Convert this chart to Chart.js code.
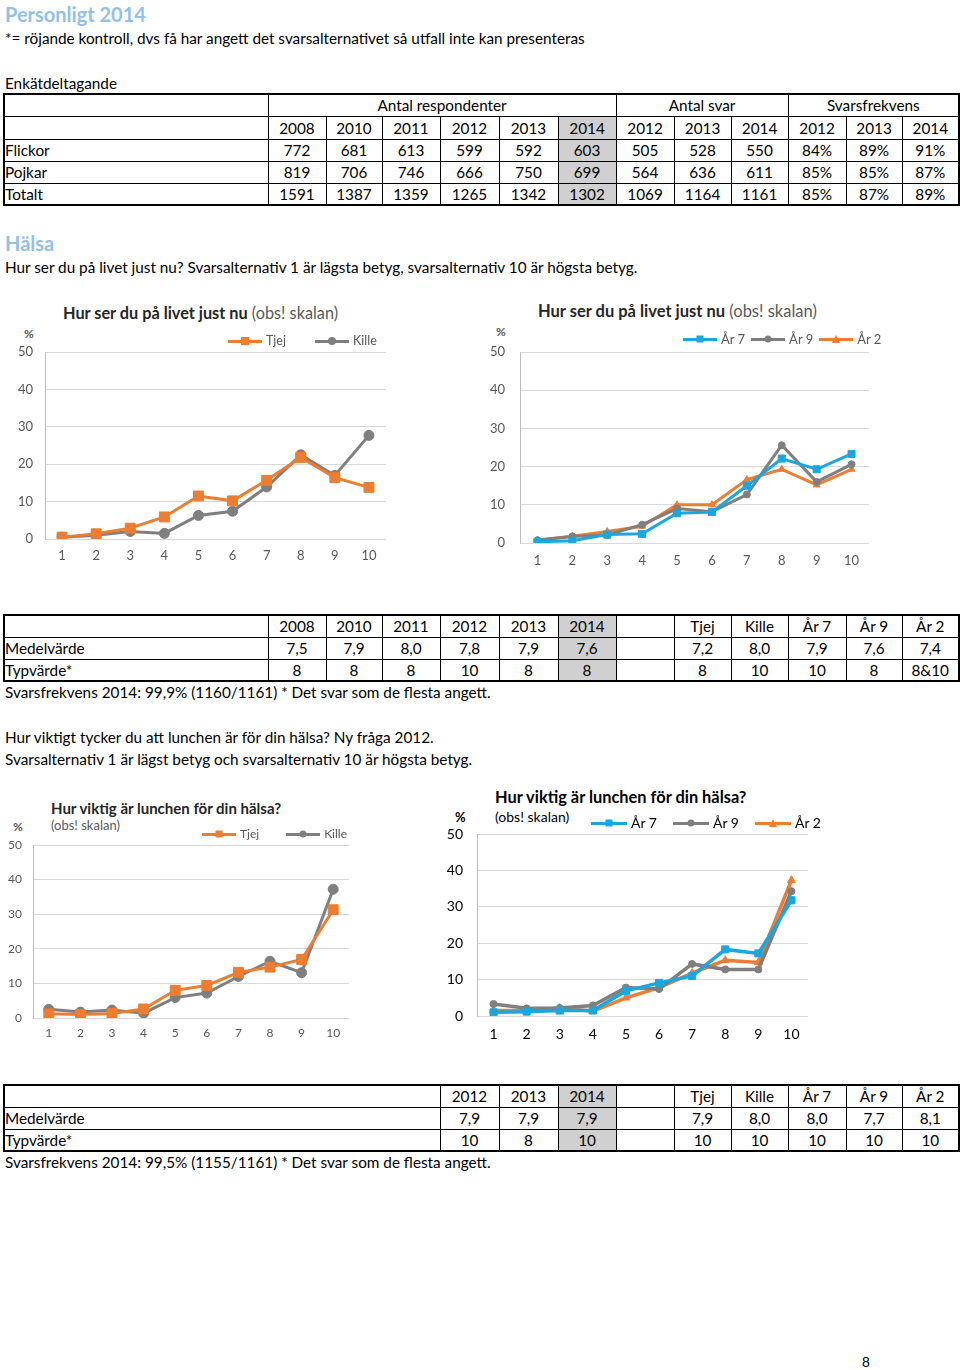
<!DOCTYPE html>
<html lang="sv">
<head>
<meta charset="utf-8">
<script src="https://cdn.jsdelivr.net/npm/chart.js@4.4.1/dist/chart.umd.min.js"></script>
<style>
  body { margin:0; width:960px; height:1370px; position:relative; background:#fff;
         font-family: Lato, 'Noto Sans', sans-serif; font-size:15.3px; color:#000; }
  .t { position:absolute; white-space:nowrap; line-height:20px; }
  .h { color:#92C1E6; font-weight:bold; font-size:20px; line-height:24px; }
  table { position:absolute; border-collapse:collapse; border:2px solid #000; table-layout:fixed; }
  td { border:1px solid #000; padding:0; text-align:center; font-size:15.3px; line-height:18px; overflow:hidden; white-space:nowrap; }
  td.l { text-align:left; padding-left:0; }
  td.g { background:#D0D0D0; }
  canvas { position:absolute; }
  .ct { position:absolute; white-space:nowrap; color:#262626; line-height:18px; }
  .pct { position:absolute; font-size:12px; font-weight:bold; color:#595959; line-height:14px; }
  .lg { position:absolute; display:flex; align-items:center; white-space:nowrap; line-height:16px; }
  .lgi { display:flex; align-items:center; }
  .ln { position:relative; height:3px; margin-right:4px; }
  .mk { position:absolute; left:50%; top:50%; transform:translate(-50%,-50%); }
</style>
</head>
<body>

<div class="t h" style="left:5px;top:2px;">Personligt 2014</div>
<div class="t" style="left:5px;top:28px;">*= röjande kontroll, dvs få har angett det svarsalternativet så utfall inte kan presenteras</div>
<div class="t" style="left:5px;top:73px;">Enkätdeltagande</div>
<div class="t h" style="left:5px;top:231px;">Hälsa</div>
<div class="t" style="left:5px;top:257px;">Hur ser du på livet just nu? Svarsalternativ 1 är lägsta betyg, svarsalternativ 10 är högsta betyg.</div>
<div class="t" style="left:5px;top:682px;">Svarsfrekvens 2014: 99,9% (1160/1161) * Det svar som de flesta angett.</div>
<div class="t" style="left:5px;top:727px;">Hur viktigt tycker du att lunchen är för din hälsa? Ny fråga 2012.</div>
<div class="t" style="left:5px;top:749px;">Svarsalternativ 1 är lägst betyg och svarsalternativ 10 är högsta betyg.</div>
<div class="t" style="left:5px;top:1152px;">Svarsfrekvens 2014: 99,5% (1155/1161) * Det svar som de flesta angett.</div>
<div class="t" style="left:862px;top:1352px;font-family:'Liberation Sans',sans-serif;font-size:14px;">8</div>

<!-- diagramrubriker -->
<div class="ct" style="left:63px;top:304px;font-size:16.3px;"><b>Hur ser du på livet just nu</b> <span style="color:#595959">(obs! skalan)</span></div>
<div class="pct" style="left:24px;top:327px;">%</div>
<div class="ct" style="left:538px;top:302px;font-size:16.5px;"><b>Hur ser du på livet just nu</b> <span style="color:#595959">(obs! skalan)</span></div>
<div class="pct" style="left:496px;top:325px;">%</div>
<div class="ct" style="left:51px;top:799px;font-size:15px;"><b>Hur viktig är lunchen för din hälsa?</b></div>
<div class="ct" style="left:51px;top:816px;font-size:13px;color:#595959;">(obs! skalan)</div>
<div class="pct" style="left:13px;top:820px;">%</div>
<div class="ct" style="left:495px;top:788px;font-size:16.4px;color:#000;"><b>Hur viktig är lunchen för din hälsa?</b></div>
<div class="ct" style="left:495px;top:808px;font-size:14px;color:#000;">(obs! skalan)</div>
<div class="pct" style="left:455px;top:810px;font-size:13px;color:#000;">%</div>

<canvas id="c1" width="400" height="228" style="left:0px;top:342px;"></canvas>
<canvas id="c2" width="400" height="231" style="left:480px;top:342px;"></canvas>
<canvas id="c3" width="360" height="210" style="left:0px;top:835px;"></canvas>
<canvas id="c4" width="380" height="222" style="left:440px;top:824px;"></canvas>

<script>
// Enkätdeltagande
const respAr = ['2008', '2010', '2011', '2012', '2013', '2014'];
const svarAr = ['2012', '2013', '2014'];
const flickorResp = [772, 681, 613, 599, 592, 603];
const pojkarResp = [819, 706, 746, 666, 750, 699];
const totaltResp = [1591, 1387, 1359, 1265, 1342, 1302];
const flickorSvar = [505, 528, 550];
const pojkarSvar = [564, 636, 611];
const totaltSvar = [1069, 1164, 1161];
const flickorFrekv = ['84%', '89%', '91%'];
const pojkarFrekv = ['85%', '85%', '87%'];
const totaltFrekv = ['85%', '87%', '89%'];

// Medel- och typvärden
const grupper = ['Tjej', 'Kille', 'År 7', 'År 9', 'År 2'];
const livetMedelAr = ['7,5', '7,9', '8,0', '7,8', '7,9', '7,6'];
const livetTypAr = ['8', '8', '8', '10', '8', '8'];
const livetMedelGrupp = ['7,2', '8,0', '7,9', '7,6', '7,4'];
const livetTypGrupp = ['8', '10', '10', '8', '8&10'];
const lunchMedelAr = ['7,9', '7,9', '7,9'];
const lunchTypAr = ['10', '8', '10'];
const lunchMedelGrupp = ['7,9', '8,0', '8,0', '7,7', '8,1'];
const lunchTypGrupp = ['10', '10', '10', '10', '10'];

// Diagramdata (%)
const svarsalternativ = ['1', '2', '3', '4', '5', '6', '7', '8', '9', '10'];
const livetTjej = [0.5, 1.4, 2.9, 5.9, 11.5, 10.2, 15.7, 21.8, 16.4, 13.8];
const livetKille = [0.5, 1.0, 2.0, 1.5, 6.3, 7.4, 13.9, 22.5, 17.0, 27.7];
const livetAr7 = [0.3, 0.6, 2.2, 2.4, 7.8, 8.1, 15.0, 22.1, 19.3, 23.3];
const livetAr9 = [0.7, 1.7, 2.1, 4.8, 9.0, 8.2, 12.7, 25.6, 16.0, 20.6];
const livetAr2 = [0.8, 1.8, 3.0, 4.4, 10.0, 10.0, 16.6, 19.3, 15.2, 19.3];
const lunchTjej = [1.2, 1.0, 1.3, 2.6, 8.0, 9.4, 13.2, 14.7, 16.9, 31.3];
const lunchKille = [2.5, 1.7, 2.3, 1.4, 5.9, 7.2, 12.0, 16.4, 13.1, 37.2];
const lunchAr7 = [1.0, 1.2, 1.5, 1.5, 6.9, 9.1, 11.0, 18.3, 17.2, 31.8];
const lunchAr9 = [3.3, 2.1, 2.2, 2.9, 7.8, 7.4, 14.3, 12.8, 12.8, 34.3];
const lunchAr2 = [1.5, 1.5, 2.2, 1.3, 5.0, 7.8, 11.8, 15.3, 14.7, 37.3];

const ORANGE = '#ED7D31', GRAY = '#7F7F7F', BLUE = '#1AA7E0';

// Tabeller
function buildTable(left, top, bounds, heights, rows) {
  const t = document.createElement('table');
  t.style.left = left + 'px';
  t.style.top = top + 'px';
  t.style.width = (bounds[bounds.length - 1] - bounds[0]) + 'px';
  const cg = document.createElement('colgroup');
  for (let i = 0; i < bounds.length - 1; i++) {
    const c = document.createElement('col');
    c.style.width = (bounds[i + 1] - bounds[i]) + 'px';
    cg.appendChild(c);
  }
  t.appendChild(cg);
  rows.forEach((r, ri) => {
    const tr = t.insertRow();
    tr.style.height = heights[ri] + 'px';
    r.forEach(c => {
      const td = tr.insertCell();
      if (typeof c === 'object') {
        td.textContent = c.t;
        if (c.span) td.colSpan = c.span;
        if (c.cls) td.className = c.cls;
      } else td.textContent = c;
    });
  });
  document.body.appendChild(t);
}
const gr = (arr, idx) => arr.map((v, i) => i === idx ? { t: v, cls: 'g' } : String(v));

const b1 = [3, 267, 325, 381, 439, 498, 557, 615, 673, 730, 787, 845, 901, 958];
buildTable(3, 93, b1, [22, 23, 22, 22, 22], [
  ['', { t: 'Antal respondenter', span: 6 }, { t: 'Antal svar', span: 3 }, { t: 'Svarsfrekvens', span: 3 }],
  ['', ...gr(respAr, 5), ...svarAr, ...svarAr],
  [{ t: 'Flickor', cls: 'l' }, ...gr(flickorResp, 5), ...flickorSvar.map(String), ...flickorFrekv],
  [{ t: 'Pojkar', cls: 'l' }, ...gr(pojkarResp, 5), ...pojkarSvar.map(String), ...pojkarFrekv],
  [{ t: 'Totalt', cls: 'l' }, ...gr(totaltResp, 5), ...totaltSvar.map(String), ...totaltFrekv]
]);
buildTable(3, 614, b1, [22, 22, 22], [
  ['', ...gr(respAr, 5), '', ...grupper],
  [{ t: 'Medelvärde', cls: 'l' }, ...gr(livetMedelAr, 5), '', ...livetMedelGrupp],
  [{ t: 'Typvärde*', cls: 'l' }, ...gr(livetTypAr, 5), '', ...livetTypGrupp]
]);
const b3 = [3, 439, 498, 557, 615, 673, 730, 787, 845, 901, 958];
buildTable(3, 1084, b3, [22, 22, 22], [
  ['', ...gr(svarAr, 2), '', ...grupper],
  [{ t: 'Medelvärde', cls: 'l' }, ...gr(lunchMedelAr, 2), '', ...lunchMedelGrupp],
  [{ t: 'Typvärde*', cls: 'l' }, ...gr(lunchTypAr, 2), '', ...lunchTypGrupp]
]);

// HTML-förklaring byggd från diagrammets dataset
function htmlLegend(chart, left, cy, gap, lineW, fontSize, color, mk) {
  const box = document.createElement('div');
  box.className = 'lg';
  box.style.left = left + 'px';
  box.style.top = (cy - 8) + 'px';
  box.style.gap = gap + 'px';
  box.style.fontSize = fontSize + 'px';
  box.style.color = color;
  chart.data.datasets.forEach(ds => {
    const it = document.createElement('div');
    it.className = 'lgi';
    const ln = document.createElement('div');
    ln.className = 'ln';
    ln.style.width = lineW + 'px';
    ln.style.background = ds.borderColor;
    const m = document.createElement('div');
    m.className = 'mk';
    if (ds.pointStyle === 'triangle') {
      m.style.width = 0; m.style.height = 0;
      m.style.borderLeft = (mk / 2 + 1) + 'px solid transparent';
      m.style.borderRight = (mk / 2 + 1) + 'px solid transparent';
      m.style.borderBottom = (mk + 1) + 'px solid ' + ds.borderColor;
    } else {
      m.style.width = mk + 'px'; m.style.height = mk + 'px';
      m.style.background = ds.borderColor;
      if (ds.pointStyle === 'circle') m.style.borderRadius = '50%';
    }
    ln.appendChild(m);
    const tx = document.createElement('span');
    tx.textContent = ds.label;
    it.appendChild(ln);
    it.appendChild(tx);
    box.appendChild(it);
  });
  document.body.appendChild(box);
}

function serie(label, data, color, style, r, w) {
  return {
    label, data, borderColor: color, backgroundColor: color,
    pointStyle: style, pointRadius: r, pointBorderWidth: 1,
    pointBackgroundColor: color, pointBorderColor: color,
    borderWidth: w, tension: 0
  };
}

function makeChart(id, datasets, o) {
  const font = { family: 'Lato, "Noto Sans", sans-serif', size: o.size };
  return new Chart(document.getElementById(id), {
    type: 'line',
    data: { labels: svarsalternativ, datasets },
    options: {
      responsive: false,
      animation: false,
      layout: { padding: { top: 10, right: o.padR, left: 0, bottom: 0 } },
      plugins: { legend: { display: false }, tooltip: { enabled: false }, title: { display: false } },
      scales: {
        x: {
          offset: true,
          grid: { display: false, drawTicks: false },
          border: { display: false },
          ticks: { color: o.txt, font, padding: o.xPad, maxRotation: 0 },
          afterFit: s => { s.height = o.xH; s.paddingLeft = 0; s.paddingRight = 0; }
        },
        y: {
          min: 0, max: 50,
          ticks: { stepSize: 10, color: o.txt, font, padding: o.yPad },
          grid: { color: '#D9D9D9', drawTicks: false },
          border: { display: true, color: '#BFBFBF' },
          afterFit: s => { s.width = o.yW; s.paddingTop = 0; s.paddingBottom = 0; }
        }
      }
    }
  });
}

const c1 = makeChart('c1', [
  serie('Tjej', livetTjej, ORANGE, 'rect', 7, 3),
  serie('Kille', livetKille, GRAY, 'circle', 5, 3)
], { size: 13, txt: '#595959', padR: 14, xPad: 9, xH: 31, yPad: 12, yW: 45 });
htmlLegend(c1, 228, 341, 29, 34, 12.5, '#595959', 8);

const c2 = makeChart('c2', [
  serie('År 7', livetAr7, BLUE, 'rect', 5, 3),
  serie('År 9', livetAr9, GRAY, 'circle', 3.5, 3),
  serie('År 2', livetAr2, ORANGE, 'triangle', 4, 3)
], { size: 13, txt: '#595959', padR: 11, xPad: 10, xH: 30, yPad: 15, yW: 40 });
htmlLegend(c2, 683, 339, 6, 34, 13, '#595959', 7);

const c3 = makeChart('c3', [
  serie('Tjej', lunchTjej, ORANGE, 'rect', 7, 3),
  serie('Kille', lunchKille, GRAY, 'circle', 5, 3)
], { size: 12, txt: '#595959', padR: 11, xPad: 8, xH: 27, yPad: 11, yW: 33 });
htmlLegend(c3, 202, 834, 27, 34, 12, '#595959', 7);

const c4 = makeChart('c4', [
  serie('År 7', lunchAr7, BLUE, 'rect', 5, 3.5),
  serie('År 9', lunchAr9, GRAY, 'circle', 3.5, 3.5),
  serie('År 2', lunchAr2, ORANGE, 'triangle', 4.5, 3.5)
], { size: 14, txt: '#000', padR: 12, xPad: 10, xH: 30, yPad: 14, yW: 37 });
htmlLegend(c4, 591, 823, 16, 36, 14, '#000', 7);
</script>
</body>
</html>
